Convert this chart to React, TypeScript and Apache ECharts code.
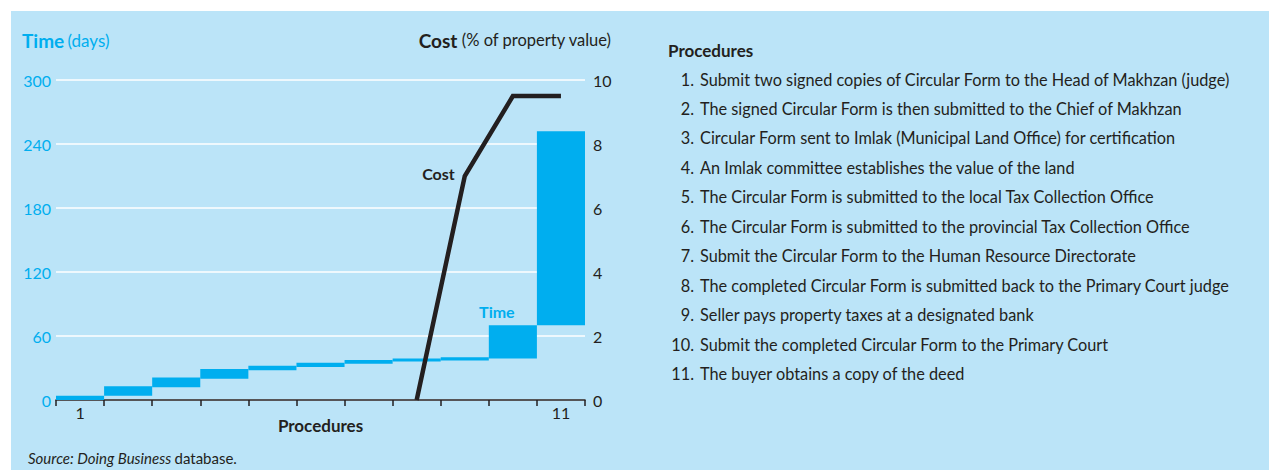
import React, { useEffect, useRef } from "react";
import * as echarts from "echarts";

const procedures = ["1", "2", "3", "4", "5", "6", "7", "8", "9", "10", "11"];
// cumulative time (days): start and end of each procedure
const timeStart = [0, 4, 12, 20, 28, 31, 34, 36, 37, 39, 70];
const timeEnd = [4, 13, 21, 29, 32, 35, 37.5, 39, 40, 70, 252];
// cumulative cost (% of property value)
const costValues = [null, null, null, null, null, null, null, 0, 7, 9.5, 9.5];
const timeTicks = { min: 0, max: 300, interval: 60 };
const costTicks = { min: 0, max: 10, interval: 2 };
const procedureTexts = [
  "Submit two signed copies of Circular Form to the Head of Makhzan (judge)",
  "The signed Circular Form is then submitted to the Chief of Makhzan",
  "Circular Form sent to Imlak (Municipal Land Office) for certification",
  "An Imlak committee establishes the value of the land",
  "The Circular Form is submitted to the local Tax Collection Office",
  "The Circular Form is submitted to the provincial Tax Collection Office",
  "Submit the Circular Form to the Human Resource Directorate",
  "The completed Circular Form is submitted back to the Primary Court judge",
  "Seller pays property taxes at a designated bank",
  "Submit the completed Circular Form to the Primary Court",
  "The buyer obtains a copy of the deed",
];

const BG = "#BBE4F8";
const CYAN = "#00AEEF";
const DARK = "#231F20";
const FONT = "Lato, 'Noto Sans', sans-serif";

export default function App() {
  const ref = useRef<HTMLDivElement>(null);
  useEffect(() => {
    document.body.style.margin = "0";
    const chart = echarts.init(ref.current!, null, { renderer: "svg" });
    const listGraphics: any[] = [];
    listGraphics.push({
      type: "text",
      x: 668,
      y: 50,
      style: { text: "Procedures", font: `bold 17px ${FONT}`, fill: DARK, verticalAlign: "middle" },
    });
    procedureTexts.forEach((t, i) => {
      const y = 79 + i * 29.45;
      listGraphics.push({
        type: "text",
        x: 694,
        y,
        style: { text: `${i + 1}.`, font: `16.3px ${FONT}`, fill: DARK, align: "right", verticalAlign: "middle" },
      });
      listGraphics.push({
        type: "text",
        x: 700,
        y,
        style: { text: t, font: `16.3px ${FONT}`, fill: DARK, align: "left", verticalAlign: "middle" },
      });
    });

    const option: any = {
      animation: false,
      backgroundColor: "#ffffff",
      textStyle: { fontFamily: FONT },
      graphic: [
        { type: "rect", shape: { x: 11, y: 11, width: 1258, height: 459 }, style: { fill: BG }, z: -10 },
        {
          type: "text",
          x: 22,
          y: 40,
          style: {
            text: "{b|Time} {r|(days)}",
            verticalAlign: "middle",
            rich: {
              b: { fontWeight: "bold", fontSize: 19, fill: CYAN, fontFamily: FONT },
              r: { fontSize: 17, fill: CYAN, fontFamily: FONT },
            },
          },
        },
        {
          type: "text",
          x: 611,
          y: 40,
          style: {
            text: "{b|Cost} {r|(% of property value)}",
            align: "right",
            verticalAlign: "middle",
            rich: {
              b: { fontWeight: "bold", fontSize: 19, fill: DARK, fontFamily: FONT },
              r: { fontSize: 16.5, fill: DARK, fontFamily: FONT },
            },
          },
        },
        {
          type: "text",
          x: 28,
          y: 458,
          style: {
            text: "{i|Source: Doing Business} {r|database.}",
            verticalAlign: "middle",
            rich: {
              i: { fontStyle: "italic", fontSize: 15, fill: DARK, fontFamily: FONT },
              r: { fontSize: 15, fill: DARK, fontFamily: FONT },
            },
          },
        },
        ...listGraphics,
      ],
      grid: { left: 56, right: 684, top: 80, bottom: 70, containLabel: false },
      xAxis: {
        type: "category",
        data: procedures,
        boundaryGap: true,
        axisLine: { lineStyle: { color: DARK, width: 1.5 } },
        axisTick: { show: true, interval: 0, length: 6, lineStyle: { color: DARK, width: 1.5 } },
        axisLabel: {
          interval: 0,
          formatter: (v: string, i: number) => (i === 0 || i === procedures.length - 1 ? v : ""),
          color: DARK,
          fontSize: 16,
          margin: 4,
          fontFamily: FONT,
        },
        name: "Procedures",
        nameLocation: "middle",
        nameGap: 17,
        nameMoveOverlap: false,
        nameTextStyle: { fontWeight: "bold", fontSize: 17, color: DARK, fontFamily: FONT },
      },
      yAxis: [
        {
          type: "value",
          ...timeTicks,
          axisLine: { show: false },
          axisTick: { show: false },
          axisLabel: { color: CYAN, fontSize: 16, margin: 5, fontFamily: FONT },
          splitLine: { lineStyle: { color: "#ffffff", width: 1.5 } },
        },
        {
          type: "value",
          position: "right",
          ...costTicks,
          axisLine: { show: false },
          axisTick: { show: false },
          axisLabel: { color: DARK, fontSize: 16, margin: 8, fontFamily: FONT },
          splitLine: { show: false },
        },
      ],
      series: [
        {
          type: "bar",
          stack: "time",
          data: timeStart,
          itemStyle: { color: "transparent" },
          barCategoryGap: "0%",
          silent: true,
        },
        {
          type: "bar",
          stack: "time",
          barCategoryGap: "0%",
          data: timeEnd.map((e, i) => {
            const v = e - timeStart[i];
            if (i === 9) {
              return {
                value: v,
                label: {
                  show: true,
                  position: "top",
                  distance: 6,
                  offset: [-16, 0],
                  formatter: "Time",
                  color: CYAN,
                  fontWeight: "bold",
                  fontSize: 16,
                  fontFamily: FONT,
                },
              };
            }
            return v;
          }),
          itemStyle: { color: CYAN },
        },
        {
          type: "line",
          yAxisIndex: 1,
          symbol: "circle",
          symbolSize: 0,
          showSymbol: true,
          lineStyle: { color: DARK, width: 4.5, join: "miter", cap: "butt" },
          itemStyle: { color: DARK },
          data: costValues.map((v, i) =>
            i === 8
              ? {
                  value: v,
                  label: {
                    show: true,
                    position: "left",
                    distance: 10,
                    offset: [0, -3],
                    formatter: "Cost",
                    color: DARK,
                    fontWeight: "bold",
                    fontSize: 16,
                    fontFamily: FONT,
                  },
                }
              : v
          ),
          z: 5,
        },
      ],
    };
    chart.setOption(option);
    return () => chart.dispose();
  }, []);
  return <div ref={ref} style={{ width: 1269, height: 470 }} />;
}
